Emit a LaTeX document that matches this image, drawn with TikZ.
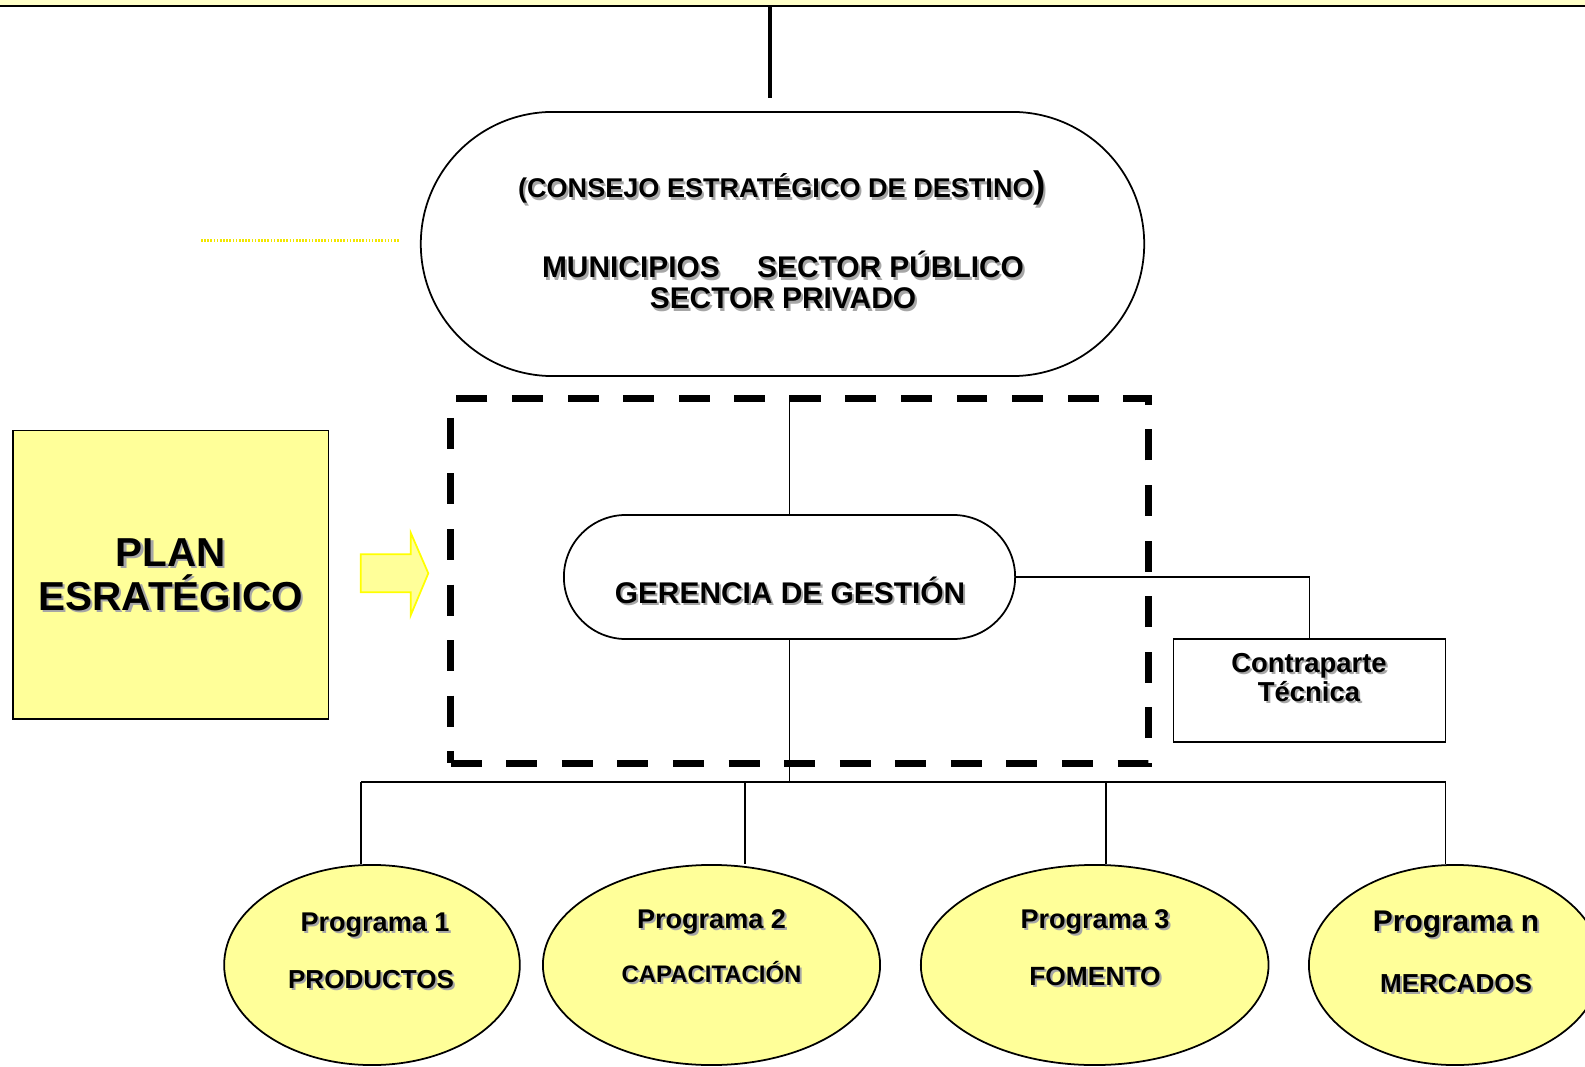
\documentclass[tikz,border=0pt]{standalone}
\usepackage{fontspec}
\setmainfont{Liberation Sans}
\usepackage{tikz}
\usetikzlibrary{shapes.geometric,shapes.misc}
\definecolor{paleyellow}{HTML}{FFFF99}
\definecolor{bandyellow}{HTML}{FFFFC8}
\definecolor{dotyellow}{HTML}{F2E600}
\definecolor{arrowyellow}{HTML}{FFFF00}
\newcommand{\shtext}[1]{\leavevmode\rlap{\kern0.6pt\raisebox{-0.6pt}{\color{black!35}#1}}#1}
\newcommand{\fs}[1]{\fontsize{#1}{#1}\selectfont\bfseries}

\begin{document}
\begin{tikzpicture}[x=0.01cm,y=-0.01cm]
		\tikzstyle{every node}+=[inner sep=0pt]
		\tikzstyle{lbl}=[anchor=base, align=center]
		\tikzstyle{link}=[black, line width=0.45pt]
		\tikzstyle{prog}=[draw=black, line width=0.5pt, fill=paleyellow, ellipse, minimum height=2cm]
		\useasboundingbox (0,0) rectangle (1585,1067);
		% band on top
		\fill [bandyellow] (0,0) rectangle (1585,5);
		\draw [black, line width=0.6pt] (0,6) -- (1585,6);
		\coordinate (topjoin) at (770,6);
		\coordinate (topend) at (770,98);
		\draw [black, line width=1.3pt] (topjoin) -- (topend);
		\coordinate (dotL) at (201,240.5);
		\coordinate (dotR) at (399,240.5);
		\draw [dotyellow, line width=0.6pt, dash pattern=on 0.45pt off 0.45pt] (dotL) -- (dotR);
		% consejo
		\node [draw, rounded rectangle, line width=0.5pt, minimum width=7.23cm, minimum height=2.64cm] (consejo) at (782.5,244) {};
		\node [lbl, font=\fs{7.7}] at (782,198) {\shtext{(CONSEJO ESTRATÉGICO DE DESTINO{\fs{10.5})}}};
		\node [lbl, font=\fs{8.5}] at (783,278) {\shtext{MUNICIPIOS\hspace{1.25em}SECTOR PÚBLICO}};
		\node [lbl, font=\fs{8.5}] at (783,309) {\shtext{SECTOR PRIVADO}};
		% plan
		\node [draw, fill=paleyellow, line width=0.5pt, minimum width=3.155cm, minimum height=2.885cm] (plan) at (170.75,574.75) {};
		\node [lbl, font=\fs{11.5}] at (171,566) {\shtext{PLAN}};
		\node [lbl, font=\fs{11.5}] at (171,610.5) {\shtext{ESRATÉGICO}};
		\draw [arrowyellow, fill=paleyellow, line width=0.5pt] (360.7,554.3) -- (410.7,554.3) -- (410.7,532.7) -- (428.3,573.3) -- (410.7,615.3) -- (410.7,592.3) -- (360.7,592.3) -- cycle;
		% gerencia
		\node [draw, line width=2pt, dash pattern=on 8.8pt off 7pt, minimum width=6.97cm, minimum height=3.64cm] (frame) at (799.5,581) {};
		\node [draw, fill=white, rounded rectangle, line width=0.5pt, minimum width=4.51cm, minimum height=1.24cm] (ger) at (789.5,577) {};
		\node [lbl, font=\fs{8.5}] at (790,603.5) {\shtext{GERENCIA DE GESTIÓN}};
		\node [draw, line width=0.5pt, minimum width=2.72cm, minimum height=1.03cm] (cp) at (1309.5,690.5) {};
		\node [lbl, font=\fs{7.8}] at (1309,672) {\shtext{Contraparte}};
		\node [lbl, font=\fs{7.8}] at (1309,701.5) {\shtext{Técnica}};
		\draw [link] (ger.north |- frame.north) -- (ger.north);
		\draw [link] (ger.east) -| (cp.north);
		% programas
		\node [prog, minimum width=2.955cm] (p1) at (372,965) {};
		\node [prog, minimum width=3.37cm] (p2) at (711.5,965) {};
		\node [prog, minimum width=3.475cm] (p3) at (1094.7,965) {};
		\node [prog, minimum width=2.92cm] (p4) at (1455,965) {};
		\node [lbl, font=\fs{7.7}] at (375,931) {\shtext{Programa 1}};
		\node [lbl, font=\fs{7.4}] at (371,988.5) {\shtext{PRODUCTOS}};
		\node [lbl, font=\fs{7.7}] at (711.5,928) {\shtext{Programa 2}};
		\node [lbl, font=\fs{6.8}] at (711.5,982.5) {\shtext{CAPACITACIÓN}};
		\node [lbl, font=\fs{7.7}] at (1095,928) {\shtext{Programa 3}};
		\node [lbl, font=\fs{7.5}] at (1095,985.5) {\shtext{FOMENTO}};
		\node [lbl, font=\fs{8.5}] at (1456,931) {\shtext{Programa n}};
		\node [lbl, font=\fs{7.4}] at (1456,992.5) {\shtext{MERCADOS}};
		\coordinate (d1) at (361,782);
		\coordinate (d2) at (745,782);
		\coordinate (d3) at (1106,782);
		\coordinate (d4) at (1445.5,782);
		\draw [link] (d1) -- (d4);
		\draw [link] (ger.south) -- (ger.south |- d1);
		\foreach \d/\p in {d1/p1,d2/p2,d3/p3,d4/p4}
			\draw [link] (\d) -- (\d |- \p.north);
	\end{tikzpicture}
\end{document}
